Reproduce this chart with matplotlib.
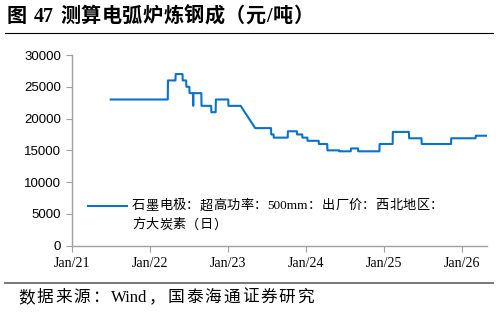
"""
plot.py — graphite electrode price proxy for EAF steelmaking cost (元/吨).
Writes out.png (~499x313 px).
"""

import re

import matplotlib
matplotlib.use("Agg")
import matplotlib.pyplot as plt
import matplotlib.dates as mdates
import matplotlib.transforms as mtransforms
import pandas as pd

# Price-change records: date the price took effect, price (元/吨)
change_dates = [
    "2021-07-01", "2022-03-26", "2022-05-01", "2022-06-03", "2022-06-20",
    "2022-07-05", "2022-07-22", "2022-07-23", "2022-08-30", "2022-10-15",
    "2022-11-05", "2023-01-03", "2023-05-08", "2023-07-22", "2023-08-03",
    "2023-10-08", "2023-11-20", "2023-12-15", "2024-01-08", "2024-03-01",
    "2024-04-10", "2024-06-05", "2024-07-29", "2024-09-01", "2024-12-10",
    "2025-02-10", "2025-04-27", "2025-06-25", "2025-11-10", "2026-03-05",
]
change_prices = [
    23000, 26000, 27000, 26000, 25000,
    24000, 22000, 24000, 22000, 21000,
    23000, 22000, 18500, 17500, 17000,
    18000, 17500, 17000, 16500, 16000,
    15000, 14850, 15300, 14850, 16000,
    17900, 16900, 16000, 16900, 17300,
]
last_date = "2026-04-25"
# no quotes reported in this window -> line is drawn straight across it
gap_start, gap_end = "2023-03-01", "2023-05-08"

series_label = ["石墨电极：超高功率：500mm：出厂价：西北地区：", "方大炭素（日）"]
title = "图 47 测算电弧炉炼钢成（元/吨）"
source = "数据来源：Wind，国泰海通证券研究"

W, H = 499, 313
LINE_COLOR = "#0a72c8"
AXIS_GRAY = "#a0a0a0"
SERIF = ["Liberation Serif", "Noto Sans CJK SC"]


def build_series():
    s = pd.Series(change_prices, index=pd.to_datetime(change_dates))
    days = pd.date_range(change_dates[0], last_date, freq="D")
    days = days[(days <= gap_start) | (days >= gap_end)]
    return s.reindex(days.union(s.index)).ffill()


def tracked_text(fig, text, x0, y, x1=None, track=0.0, fontsize=10, **kw):
    """Draw text token by token (pixel coords, y from top) with extra
    letter spacing; if x1 is given the spacing is chosen to end there."""
    renderer = fig.canvas.get_renderer()
    px = mtransforms.IdentityTransform()
    space_w = 0.3 * fontsize * 100 / 72
    tokens = re.findall(r" +|[!-~]+|\S", text)
    arts, widths = [], []
    for tok in tokens:
        if tok.strip():
            a = fig.text(0, 0, tok, transform=px, ha="left", va="center",
                         family=SERIF, fontsize=fontsize, **kw)
            arts.append(a)
            widths.append(a.get_window_extent(renderer).width)
        else:
            arts.append(None)
            widths.append(space_w * len(tok))
    n_gaps = sum(1 for a in arts if a is not None) - 1
    if x1 is not None and n_gaps > 0:
        track = (x1 - x0 - sum(widths)) / n_gaps
    x = x0
    for a, w in zip(arts, widths):
        if a is None:
            x += w
            continue
        a.set_position((x, H - y))
        x += w + track
    return track


def main():
    plt.rcParams["font.family"] = SERIF
    fig = plt.figure(figsize=(W / 100, H / 100), dpi=100)
    ax = fig.add_axes([72 / W, 1 - 245.7 / H, 414.7 / W, 190.7 / H])

    s = build_series()
    ax.plot(s.index, s.values, color=LINE_COLOR, lw=1.5)

    ax.set_ylim(0, 30000)
    ax.set_yticks(range(0, 30001, 5000))
    ax.set_xlim(pd.Timestamp("2021-01-01"), pd.Timestamp(last_date))
    ax.xaxis.set_major_locator(mdates.YearLocator())
    ax.xaxis.set_major_formatter(mdates.DateFormatter("Jan/%y"))

    for side in ("top", "right"):
        ax.spines[side].set_visible(False)
    for side in ("left", "bottom"):
        ax.spines[side].set_color(AXIS_GRAY)
        ax.spines[side].set_linewidth(1.0)
    ax.tick_params(axis="both", colors=AXIS_GRAY, length=4, width=0.8,
                   direction="out")
    ax.tick_params(axis="x", labelcolor="black", labelsize=10, pad=4)
    ax.tick_params(axis="y", labelcolor="black", labelsize=9.5, pad=4)
    for lbl in ax.get_yticklabels():
        lbl.set_family("Liberation Sans")

    # legend (key line + two-line label)
    fig.add_artist(plt.Line2D([88 / W, 127 / W], [1 - 206 / H] * 2,
                              color=LINE_COLOR, lw=1.5))
    tr = tracked_text(fig, series_label[0], 132, 206, x1=443, fontsize=9.5)
    tracked_text(fig, series_label[1], 132, 225, track=tr, fontsize=9.5)

    # header / footer
    tracked_text(fig, title, 7, 16.5, x1=313, fontsize=14.5,
                 fontweight="bold")
    fig.add_artist(plt.Line2D([5 / W, 493 / W], [1 - 33 / H] * 2,
                              color="black", lw=0.8))
    fig.add_artist(plt.Line2D([5 / W, 493 / W], [1 - 283 / H] * 2,
                              color="#777777", lw=1.4))
    tracked_text(fig, source, 18, 298, x1=314, fontsize=12)

    fig.savefig("out.png", dpi=100)
    plt.close(fig)


if __name__ == "__main__":
    main()
